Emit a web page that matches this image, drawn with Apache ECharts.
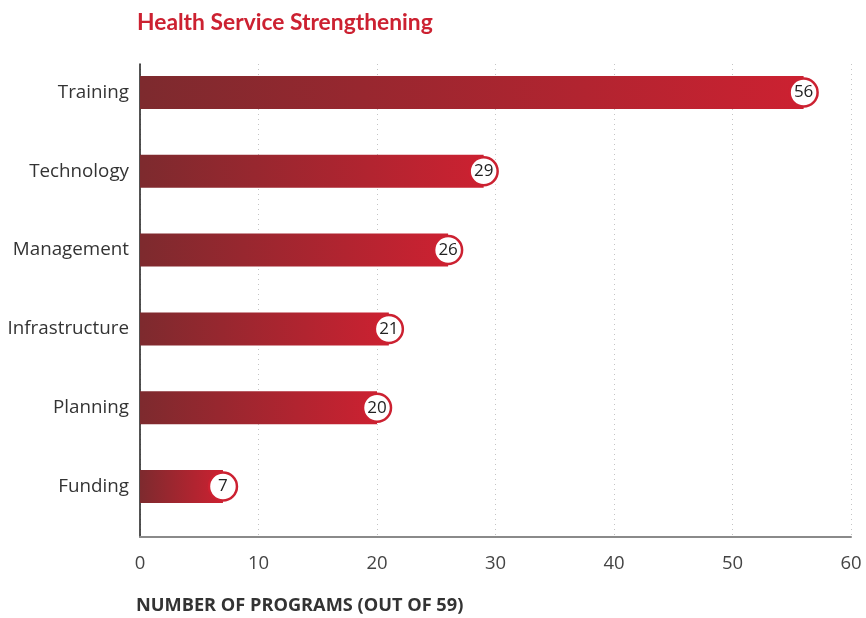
<!DOCTYPE html>
<html>
<head>
<meta charset="utf-8">
<title>Health Service Strengthening</title>
<script src="https://cdn.jsdelivr.net/npm/echarts@6/dist/echarts.min.js"></script>
<style>
  html, body { margin: 0; padding: 0; background: #ffffff; }
  #chart { width: 866px; height: 618px; }
</style>
</head>
<body>
<div id="chart"></div>
<script>
// Programs addressing each health-service area (out of 59)
const categories = ['Training', 'Technology', 'Management', 'Infrastructure', 'Planning', 'Funding'];
const programCounts = [56, 29, 26, 21, 20, 7];
const xTicks = [0, 10, 20, 30, 40, 50, 60];

const RED = '#cc2131';
const DARK_RED = '#7d2a2e';
const FONT = '"Open Sans", "Noto Sans", sans-serif';

const chart = echarts.init(document.getElementById('chart'), null, { renderer: 'canvas' });

chart.setOption({
  animation: false,
  backgroundColor: '#ffffff',
  title: {
    text: 'Health Service Strengthening',
    left: 132,
    top: 6,
    textStyle: { fontFamily: 'Lato, sans-serif', fontWeight: 'bold', fontSize: 22.8, color: RED }
  },
  graphic: [{
    type: 'text',
    left: 136,
    top: 597,
    style: {
      text: 'NUMBER OF PROGRAMS (OUT OF 59)',
      fontFamily: FONT,
      fontWeight: 'bold',
      fontSize: 18.2,
      fill: '#333333'
    }
  }],
  grid: [
    // bars and value markers
    { left: 140, right: 15, top: 53, bottom: 92 },
    // axis frame, grid lines and tick labels
    { left: 140, right: 15, top: 64, bottom: 81 }
  ],
  xAxis: [
    {
      gridIndex: 0, type: 'value', min: xTicks[0], max: xTicks[xTicks.length - 1], interval: 10,
      axisLine: { show: false }, axisTick: { show: false }, axisLabel: { show: false }, splitLine: { show: false }
    },
    {
      gridIndex: 1, type: 'value', min: xTicks[0], max: xTicks[xTicks.length - 1], interval: 10,
      axisLine: { show: true, lineStyle: { color: '#8a8a8a', width: 2 } },
      axisTick: { show: false },
      axisLabel: { show: true, fontFamily: FONT, fontSize: 18.5, color: '#444444', margin: 17 },
      splitLine: { show: true, lineStyle: { color: '#c4c4c4', type: [1, 4], width: 1 } }
    }
  ],
  yAxis: [
    {
      gridIndex: 0, type: 'category', data: categories, inverse: true,
      axisLine: { show: false }, axisTick: { show: false },
      axisLabel: { show: true, fontFamily: FONT, fontSize: 18.8, color: '#333333', margin: 11 }
    },
    {
      gridIndex: 1, type: 'value', min: 0, max: 1,
      axisLine: { show: true, lineStyle: { color: '#1a1a1a', width: 1.5 } },
      axisTick: { show: false }, axisLabel: { show: false }, splitLine: { show: false }
    }
  ],
  series: [
    {
      type: 'bar',
      xAxisIndex: 0,
      yAxisIndex: 0,
      data: programCounts,
      barWidth: 33,
      itemStyle: {
        color: new echarts.graphic.LinearGradient(0, 0, 1, 0, [
          { offset: 0, color: DARK_RED },
          { offset: 1, color: RED }
        ])
      },
      z: 2
    },
    {
      type: 'scatter',
      xAxisIndex: 0,
      yAxisIndex: 0,
      data: programCounts.map((v, i) => [v, categories[i]]),
      symbol: 'circle',
      symbolSize: 28,
      itemStyle: { color: '#ffffff', borderColor: RED, borderWidth: 2.5, opacity: 1 },
      label: {
        show: true,
        position: 'inside',
        formatter: p => p.value[0],
        fontFamily: FONT,
        fontSize: 17,
        color: '#222222'
      },
      z: 3
    }
  ]
});
</script>
</body>
</html>
